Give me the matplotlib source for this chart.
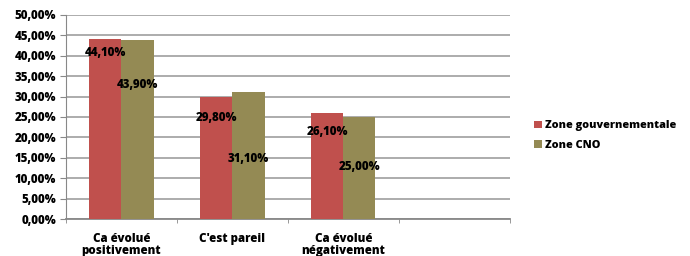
import numpy as np
import matplotlib.pyplot as plt
from matplotlib.ticker import FuncFormatter

# survey answers, two zones, shown as % of respondents
categories = ["Ca évolué\npositivement", "C'est pareil", "Ca évolué\nnégativement", ""]
zone_gouv = [44.10, 29.80, 26.10]
zone_cno = [43.90, 31.10, 25.00]
series_names = ["Zone gouvernementale", "Zone CNO"]

plt.rcParams["font.family"] = ["Open Sans", "DejaVu Sans"]
plt.rcParams["font.weight"] = "heavy"

fig = plt.figure(figsize=(6.9, 2.56), dpi=100)
ax = fig.add_axes([0.0957, 0.1445, 0.643, 0.797])

red = "#C0504D"
olive = "#948A54"
fs = 8.3
wt = "heavy"
w = 0.29
x = np.arange(len(zone_gouv))

ax.bar(x - w / 2, zone_gouv, w, color=red, label=series_names[0], zorder=3)
ax.bar(x + w / 2, zone_cno, w, color=olive, label=series_names[1], zorder=3)

# data labels sit inside the bars, at a fraction of the bar height like the original
red_pos = [0.92, 0.83, 0.82]
olive_pos = [0.75, 0.47, 0.51]
for i in range(len(x)):
    ax.text(x[i] - w / 2, zone_gouv[i] * red_pos[i], f"{zone_gouv[i]:.2f}%".replace(".", ","),
            ha="center", va="center", fontsize=fs, fontweight=wt, zorder=4)
    ax.text(x[i] + w / 2, zone_cno[i] * olive_pos[i], f"{zone_cno[i]:.2f}%".replace(".", ","),
            ha="center", va="center", fontsize=fs, fontweight=wt, zorder=4)

ax.set_xlim(-0.5, len(categories) - 0.5)
ax.set_ylim(0, 50)
ax.set_yticks(np.arange(0, 50.1, 5))
ax.yaxis.set_major_formatter(FuncFormatter(lambda v, p: f"{v:.2f}%".replace(".", ",")))
ax.set_xticks(np.arange(len(categories)))
ax.set_xticklabels(categories, fontsize=fs, fontweight=wt, linespacing=1.0)
ax.set_xticks(np.arange(-0.5, len(categories)), minor=True)
ax.tick_params(axis="x", which="major", length=0, pad=10)
ax.tick_params(axis="x", which="minor", length=3, color="#888888")
ax.tick_params(axis="y", length=4, color="#888888", labelsize=fs, pad=3)
for lab in ax.get_yticklabels():
    lab.set_fontweight(wt)

ax.grid(axis="y", color="#A6A6A6", linewidth=1.3, zorder=0)
for s in ["top", "right"]:
    ax.spines[s].set_visible(False)
ax.spines["left"].set_color("#888888")
ax.spines["bottom"].set_color("#888888")
ax.spines["bottom"].set_linewidth(1.3)

fig.legend(loc="center left", bbox_to_anchor=(0.774, 0.47), frameon=False,
           borderaxespad=0, borderpad=0,
           handlelength=0.7, handleheight=0.7, handletextpad=0.35,
           labelspacing=0.8, prop={"weight": wt, "size": 7.8})

fig.savefig("out.png", dpi=100)
